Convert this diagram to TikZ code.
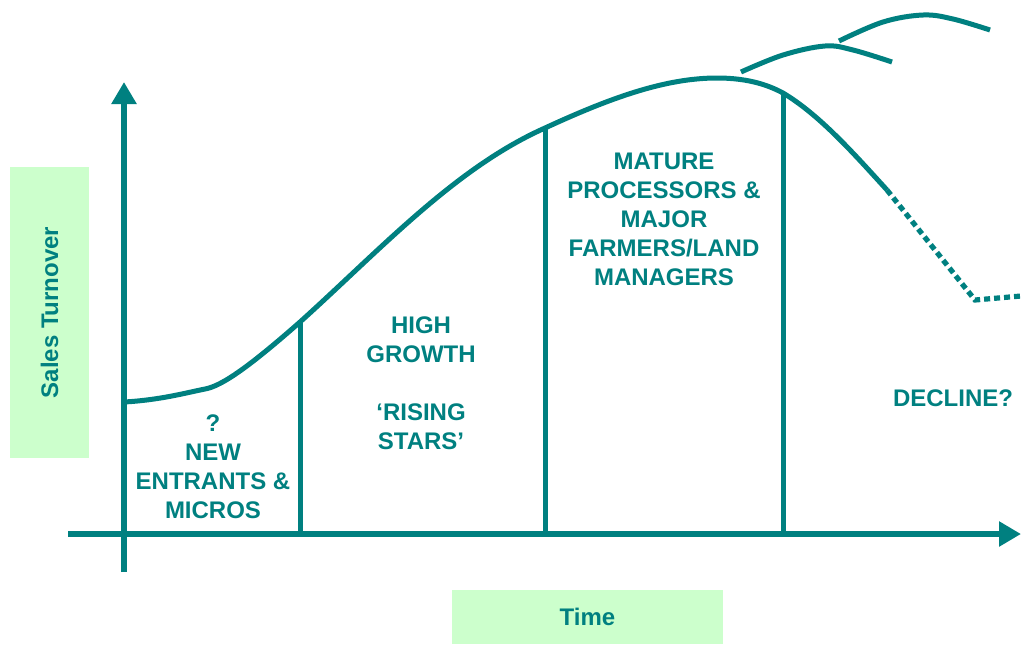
\documentclass[tikz,border=0pt]{standalone}
\usepackage{fontspec}
\setmainfont{Liberation Sans}
\usepackage{xcolor}
\usetikzlibrary{arrows.meta, positioning}

\definecolor{teal}{RGB}{0,128,128}
\definecolor{paleGreen}{RGB}{204,255,204}

\begin{document}
\begin{tikzpicture}[
x=0.5pt, y=-0.5pt,
>=Stealth,
axis/.style={draw=teal, line width=3pt, -{Triangle[length=11pt, width=12pt]}},
curve/.style={draw=teal, line width=2.5pt},
divider/.style={draw=teal, line width=2.5pt},
fading/.style={draw=teal, line width=2.6pt, dash pattern=on 3pt off 2pt},
stage/.style={text=teal, align=center, font=\fontsize{12}{14.5}\selectfont\bfseries},
tag/.style={fill=paleGreen, inner sep=0pt, text=teal, font=\fontsize{12}{14.5}\selectfont\bfseries}
]
\useasboundingbox (0,0) rectangle (1021,644);

% labels of the axes
\node[tag, minimum width=39.5pt, minimum height=145.5pt] (ylabel) at (49.5,312.5) {};
\node[text=teal, font=\fontsize{12}{14.5}\selectfont\bfseries, rotate=90] (ytext) at (ylabel) {Sales Turnover};
\node[tag, minimum width=135.5pt, minimum height=27pt] (xlabel) at (587.5,617) {Time};

% axes
\coordinate (ybot) at (124,572);
\coordinate (ytop) at (124,82);
\coordinate (xleft) at (68,534);
\coordinate (xright) at (1021,534);
\draw[axis] (ybot) -- (ytop);
\draw[axis] (xleft) -- (xright);

% life cycle curve
\coordinate (start) at (124,402);
\coordinate (bump) at (205,389);
\coordinate (d1top) at (300,322);
\coordinate (d2top) at (545,128);
\coordinate (peak) at (717,78);
\coordinate (d3top) at (783,93);
\coordinate (fall) at (887,190);
\draw[curve] (start) .. controls (160,400) and (185,393) .. (bump)
  .. controls (222,386) and (250,366) .. (d1top)
  .. controls (380,250) and (455,168) .. (d2top)
  .. controls (610,98) and (665,78) .. (peak)
  .. controls (750,78) and (770,86) .. (d3top)
  .. controls (820,115) and (855,155) .. (fall);
\coordinate (low) at (975,300);
\coordinate (tail) at (1021,296);
\draw[fading] (fall) -- (low) -- (tail);

% renewal curves
\draw[curve] plot[smooth, tension=0.6] coordinates {(741,72) (783,55) (825,46) (853,50) (892,62)};
\draw[curve] plot[smooth, tension=0.6] coordinates {(839,41) (883,22) (923,15) (953,19) (990,30)};

% stage dividers
\coordinate (d1bot) at (300,534);
\coordinate (d2bot) at (545,534);
\coordinate (d3bot) at (783,534);
\draw[divider] (d1top) -- (d1bot);
\draw[divider] (d2top) -- (d2bot);
\draw[divider] (d3top) -- (d3bot);

% stage names
\node[stage] (micros) at (213,467) {?\\NEW\\ENTRANTS \&\\MICROS};
\node[stage] (growth) at (421,383) {HIGH\\GROWTH\\[14.5pt]‘RISING\\STARS’};
\node[stage] (mature) at (664,219) {MATURE\\PROCESSORS \&\\MAJOR\\FARMERS/LAND\\MANAGERS};
\node[stage] (decline) at (953,398) {DECLINE?};

\end{tikzpicture}
\end{document}
